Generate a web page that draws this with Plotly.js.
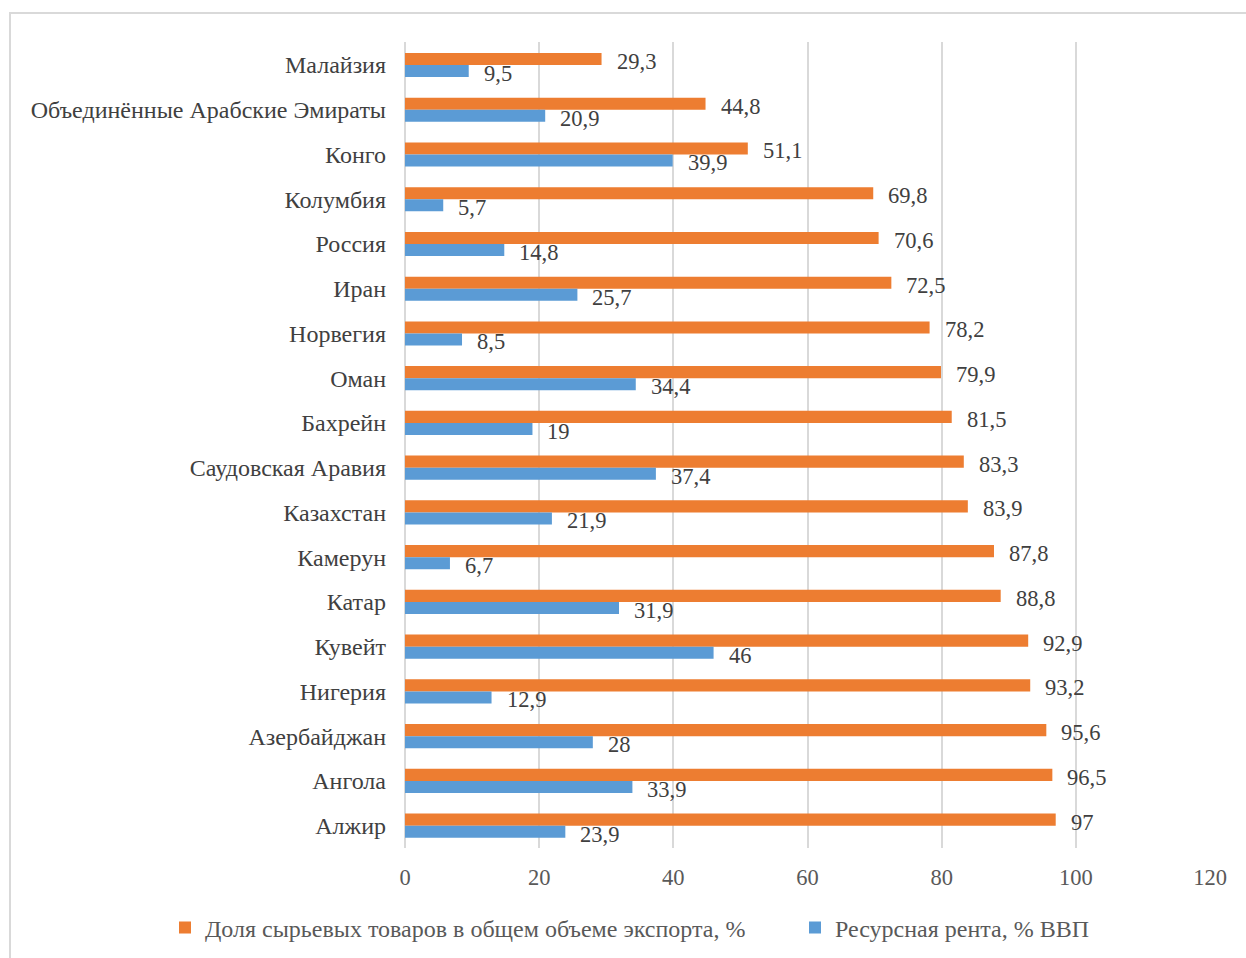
<!DOCTYPE html>
<html>
<head>
<meta charset="utf-8">
<script src="https://cdn.plot.ly/plotly-3.0.1.min.js"></script>
<style>
  html, body { margin: 0; padding: 0; background: #ffffff; }
  #chart { width: 1246px; height: 958px; }
</style>
</head>
<body>
<div id="chart"></div>
<script>
// Countries, listed top to bottom
const countries = [
  'Малайзия', 'Объединённые Арабские Эмираты', 'Конго', 'Колумбия', 'Россия',
  'Иран', 'Норвегия', 'Оман', 'Бахрейн', 'Саудовская Аравия', 'Казахстан',
  'Камерун', 'Катар', 'Кувейт', 'Нигерия', 'Азербайджан', 'Ангола', 'Алжир'
];

// Share of raw-material goods in total exports, %
const exportShare = [29.3, 44.8, 51.1, 69.8, 70.6, 72.5, 78.2, 79.9, 81.5, 83.3, 83.9, 87.8, 88.8, 92.9, 93.2, 95.6, 96.5, 97];

// Resource rent, % of GDP
const resourceRent = [9.5, 20.9, 39.9, 5.7, 14.8, 25.7, 8.5, 34.4, 19, 37.4, 21.9, 6.7, 31.9, 46, 12.9, 28, 33.9, 23.9];

const seriesNames = ['Доля сырьевых товаров в общем объеме экспорта, %', 'Ресурсная рента, % ВВП'];
const xTicks = [0, 20, 40, 60, 80, 100, 120];

const ORANGE = '#ED7D31';
const BLUE = '#5B9BD5';
const FONT = 'Liberation Serif, Times New Roman, serif';

const fmt = v => String(v).replace('.', ',');

const traces = [
  {
    type: 'bar', orientation: 'h', name: seriesNames[0], legend: 'legend',
    y: countries, x: exportShare,
    marker: { color: ORANGE, line: { width: 0 } },
    hoverinfo: 'x+y'
  },
  {
    type: 'bar', orientation: 'h', name: seriesNames[1], legend: 'legend2',
    y: countries, x: resourceRent,
    marker: { color: BLUE, line: { width: 0 } },
    hoverinfo: 'x+y'
  }
];

// value labels beside each bar end
const labelFont = { family: FONT, size: 22.5, color: '#404040' };
const annotations = [];
countries.forEach((c, i) => {
  annotations.push({
    x: exportShare[i], y: c, xref: 'x', yref: 'y',
    text: fmt(exportShare[i]), showarrow: false,
    xanchor: 'left', yanchor: 'middle', xshift: 13, yshift: 3.5,
    font: labelFont
  });
  annotations.push({
    x: resourceRent[i], y: c, xref: 'x', yref: 'y',
    text: fmt(resourceRent[i]), showarrow: false,
    xanchor: 'left', yanchor: 'middle', xshift: 13, yshift: -8.5,
    font: labelFont
  });
});

const L = 405, R = 36, T = 42, B = 110;
const plotW = 1246 - L - R, plotH = 958 - T - B;

const legendBase = {
  orientation: 'h', xref: 'container', yref: 'container',
  xanchor: 'left', y: 1 - 928 / 958, yanchor: 'middle',
  font: { family: FONT, size: 24, color: '#595959' },
  bgcolor: 'rgba(0,0,0,0)', borderwidth: 0
};

const layout = {
  width: 1246, height: 958,
  margin: { l: L, r: R, t: T, b: B, pad: 0 },
  paper_bgcolor: '#ffffff', plot_bgcolor: '#ffffff',
  barmode: 'group', bargap: 0.46, bargroupgap: 0,
  showlegend: true,
  legend: Object.assign({}, legendBase, { x: 165 / 1246 }),
  legend2: Object.assign({}, legendBase, { x: 795 / 1246 }),
  xaxis: {
    range: [0, 120], tickvals: xTicks, ticktext: xTicks.map(String),
    showgrid: true, gridcolor: '#d9d9d9', gridwidth: 2,
    zeroline: true, zerolinecolor: '#d9d9d9', zerolinewidth: 2,
    showline: false, ticks: '', ticklabelstandoff: 13,
    tickfont: { family: FONT, size: 22.5, color: '#595959' },
    fixedrange: true
  },
  yaxis: {
    type: 'category', autorange: 'reversed',
    showgrid: false, zeroline: false, showline: false, ticks: '',
    ticklabelstandoff: 18,
    tickfont: { family: FONT, size: 24, color: '#404040' },
    fixedrange: true
  },
  annotations: annotations,
  shapes: [{
    type: 'rect', xref: 'paper', yref: 'paper', layer: 'below',
    x0: (10 - L) / plotW, x1: (1256 - L) / plotW,
    y0: (T + plotH - 970) / plotH, y1: (T + plotH - 13) / plotH,
    line: { color: '#d9d9d9', width: 2 }, fillcolor: 'rgba(0,0,0,0)'
  }]
};

Plotly.newPlot('chart', traces, layout, { displayModeBar: false, staticPlot: true });
</script>
</body>
</html>
